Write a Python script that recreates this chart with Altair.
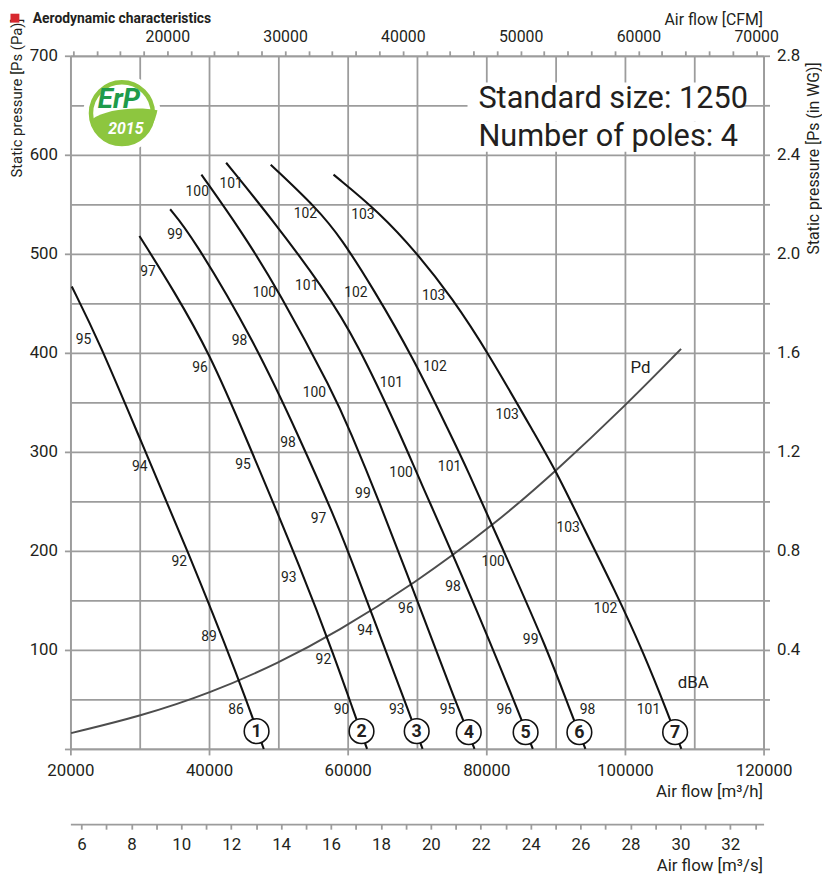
import altair as alt
import pandas as pd

FONT = "Roboto"
INK = "#231f20"
GRID = "#9c9c9c"

# ---------------- data ----------------
# fan curves: air flow Q [m3/h] and static pressure P [Pa]
c1_q = [20200, 24100, 30100, 37000, 44400, 47900]
c1_p = [467, 412, 312, 199, 69, 0]
c2_q = [29960, 35000, 40100, 45000, 53670, 58140, 60810, 62800]
c2_p = [518, 462, 399, 320, 175, 92, 39, 0]
c3_q = [34390, 37470, 46530, 53190, 58430, 61290, 64000, 66570, 68570, 70810]
c3_p = [545, 519, 412, 312, 229, 177, 127, 79, 42, 0]
c4_q = [38900, 44570, 50100, 57960, 60290, 64390, 70570, 75500, 78300]
c4_p = [580, 524, 462, 359, 322, 253, 140, 49, 0]
c5_q = [42470, 49430, 56530, 61290, 67960, 69860, 77240, 84570, 86710]
c5_p = [592, 532, 465, 412, 312, 280, 164, 39, 0]
c6_q = [48900, 55570, 59140, 63670, 69390, 75000, 76760, 83140, 88710, 92140, 94300]
c6_p = [590, 546, 515, 465, 396, 315, 290, 190, 102, 38, 0]
c7_q = [57960, 64570, 70100, 75100, 80100, 87470, 90100, 94140, 98430, 102710, 106290, 108140]
c7_p = [580, 542, 500, 455, 402, 312, 280, 222, 162, 97, 34, 0]
curve_ids = ["1", "2", "3", "4", "5", "6", "7"]
curve_q = [c1_q, c2_q, c3_q, c4_q, c5_q, c6_q, c7_q]
curve_p = [c1_p, c2_p, c3_p, c4_p, c5_p, c6_p, c7_p]

# dynamic pressure curve Pd
pd_q = [20100, 30100, 40100, 50100, 58430, 69610, 81040, 90100, 100100, 108100]
pd_p = [16, 33, 56, 87, 118, 167, 226, 281, 347, 404]

# dBA labels along the curves
lab_text = ["95", "94", "92", "89", "86",
            "97", "96", "95", "93", "92", "90",
            "99", "98", "98", "97", "94", "93",
            "100", "100", "100", "99", "96", "95",
            "101", "101", "101", "100", "98", "96",
            "102", "102", "102", "101", "100", "99", "98",
            "103", "103", "103", "103", "102", "101"]
lab_q = [21900, 30000, 35700, 40000, 43900,
         31200, 38700, 44900, 51500, 56500, 59100,
         35100, 44400, 51400, 55800, 62500, 67100,
         38300, 48000, 55200, 62200, 68400, 74400,
         43200, 54100, 66300, 67700, 75200, 82600,
         53900, 61200, 72600, 74700, 81000, 86400, 94600,
         62200, 72400, 83000, 91800, 97200, 103400]
lab_p = [413, 285, 189, 113, 39,
         482, 385, 287, 173, 90, 39,
         519, 412, 309, 232, 119, 39,
         562, 460, 359, 257, 141, 39,
         570, 467, 370, 279, 164, 39,
         540, 460, 386, 285, 189, 110, 39,
         539, 457, 337, 223, 141, 39]

# numbered circles at the foot of each curve
circ_q = [46860, 62000, 69960, 77470, 85670, 93430, 107240]
circ_p = [18, 18, 18, 17, 17, 17, 17]

# other annotations
note_text = ["Pd", "dBA"]
note_q = [102240, 109860]
note_p = [385, 67]
info_text = ["Standard size: 1250", "Number of poles: 4"]
info_q = [78860, 78860]
info_p = [647, 609]
mask_q = [77290, 77290]
mask_q2 = [117000, 116000]
mask_p = [634, 603]
mask_p2 = [673, 634]
logo_q = [27430]
logo_p = [642]

# axis tick values
x_ticks = list(range(20000, 120001, 10000))
y_ticks = list(range(0, 701, 50))
cfm_ticks = list(range(12000, 70001, 2000))
wg_ticks = [round(i * 0.2, 1) for i in range(15)]
m3s_ticks = list(range(6, 34))

# ---------------- frames ----------------
rows = []
for cid, qs, ps in zip(curve_ids, curve_q, curve_p):
    for q, p in zip(qs, ps):
        rows.append({"curve": cid, "Q": q, "P": p})
curves_df = pd.DataFrame(rows)
pd_df = pd.DataFrame({"Q": pd_q, "P": pd_p})
lab_df = pd.DataFrame({"Q": lab_q, "P": lab_p, "t": lab_text})
circ_df = pd.DataFrame({"Q": circ_q, "P": circ_p, "t": curve_ids})
note_df = pd.DataFrame({"Q": note_q, "P": note_p, "t": note_text})
info_df = pd.DataFrame({"Q": info_q, "P": info_p, "t": info_text})
mask_df = pd.DataFrame({"Q": mask_q, "Q2": mask_q2, "P": mask_p, "P2": mask_p2})
logo_df = pd.DataFrame({"Q": logo_q, "P": logo_p})

# ---------------- scales & axes ----------------
XS = alt.Scale(domain=[20000, 120000], nice=False, zero=False)
YS = alt.Scale(domain=[0, 700], nice=False, zero=False)

axis_x = alt.Axis(
    orient="bottom", values=x_ticks, format="d",
    labelExpr="datum.value % 20000 === 0 ? datum.label : ''",
    grid=True, tickSize=6, labelPadding=8,
    tickOpacity={"condition": {"test": "datum.value % 20000 === 0", "value": 1}, "value": 0},
    title="Air flow [m³/h]", titleX=699, titleY=48, titleAlign="right",
    titleBaseline="alphabetic", titleAngle=0,
)
axis_y = alt.Axis(
    orient="left", values=y_ticks,
    labelExpr="datum.value > 0 && datum.value % 100 === 0 ? datum.label : ''",
    grid=True, tickSize=6, labelPadding=7,
    tickOpacity={"condition": {"test": "datum.value % 100 === 0", "value": 1}, "value": 0},
    title="Static pressure [Ps (Pa)]", titleFontSize=15, titleAngle=270,
    titleX=-49, titleY=-38, titleAlign="right", titleBaseline="alphabetic",
)
X_ENC = alt.X("Q:Q", scale=XS, axis=axis_x)
Y_ENC = alt.Y("P:Q", scale=YS, axis=axis_y)

# ---------------- inner (shared-scale) layers ----------------
mask = alt.Chart(mask_df).mark_rect(color="white", opacity=1).encode(
    x=X_ENC, x2="Q2:Q", y=Y_ENC, y2="P2:Q")

logo_bg = alt.Chart(logo_df).mark_circle(size=6084, color="white", opacity=1).encode(x=X_ENC, y=Y_ENC)
logo_ring = alt.Chart(logo_df).mark_point(size=3900, color="#8dc63f", strokeWidth=4.5, opacity=1).encode(x=X_ENC, y=Y_ENC)
LEAF = "M -0.98 0.2 C -0.5 -0.15 0.5 -0.22 1.15 -0.1 C 1.0 0.6 0.6 0.97 0 1 C -0.55 0.98 -0.9 0.65 -0.98 0.2 Z"
logo_leaf = alt.Chart(logo_df).mark_point(shape=LEAF, size=3900, filled=True, color="#8dc63f", opacity=1).encode(x=X_ENC, y=Y_ENC)
logo_erp = alt.Chart(logo_df).mark_text(text="ErP", font=FONT, fontSize=28, fontWeight="bold", fontStyle="italic",
                                        color="#1e9b4b", dx=-3, dy=-13, baseline="middle").encode(x=X_ENC, y=Y_ENC)
logo_year = alt.Chart(logo_df).mark_text(text="2015", font=FONT, fontSize=16, fontWeight="bold", fontStyle="italic",
                                         color="white", dx=4, dy=16, baseline="middle").encode(x=X_ENC, y=Y_ENC)

curves = alt.Chart(curves_df).mark_line(color="#111111", strokeWidth=2.1, interpolate="basis").encode(
    x=X_ENC, y=Y_ENC, detail="curve:N")
pd_line = alt.Chart(pd_df).mark_line(color="#4d4d4d", strokeWidth=2, interpolate="basis").encode(x=X_ENC, y=Y_ENC)

labels = alt.Chart(lab_df).mark_text(font=FONT, fontSize=14, color=INK, baseline="middle").encode(
    x=X_ENC, y=Y_ENC, text="t:N")
notes = alt.Chart(note_df).mark_text(font=FONT, fontSize=17, color=INK, baseline="middle").encode(
    x=X_ENC, y=Y_ENC, text="t:N")
info = alt.Chart(info_df).mark_text(font=FONT, fontSize=31, color=INK, align="left", baseline="alphabetic").encode(
    x=X_ENC, y=Y_ENC, text="t:N")

circ = alt.Chart(circ_df).mark_point(shape="circle", size=620, filled=True, fill="white", stroke="#111111",
                                     strokeWidth=1.6, opacity=1).encode(x=X_ENC, y=Y_ENC)
circ_num = alt.Chart(circ_df).mark_text(font=FONT, fontSize=18, fontWeight="bold", color=INK, baseline="middle",
                                        dy=1).encode(x=X_ENC, y=Y_ENC, text="t:N")

heading_sq = alt.Chart(logo_df).mark_square(size=81, color="#d7282f", opacity=1).encode(
    x=alt.value(-56), y=alt.value(-38))
heading = alt.Chart(logo_df).mark_text(text="Aerodynamic characteristics", font=FONT, fontSize=14,
                                       fontWeight="bold", color=INK, align="left", baseline="alphabetic").encode(
    x=alt.value(-38), y=alt.value(-33))

inner = alt.LayerChart(layer=[mask, logo_bg, logo_ring, logo_leaf, logo_erp, logo_year, pd_line, curves,
                              labels, notes, info, circ, circ_num, heading_sq, heading])

# ---------------- extra axes (independent scales) ----------------
top = alt.Chart(pd.DataFrame({"cfm": [12000, 70000]})).mark_point(opacity=0).encode(
    x=alt.X("cfm:Q", scale=alt.Scale(domain=[11771.6, 70629.4], nice=False, zero=False),
            axis=alt.Axis(orient="top", values=cfm_ticks, format="d",
                          labelExpr="datum.value % 10000 === 0 ? datum.label : ''",
                          grid=False, tickSize=5, labelPadding=6, labelFontSize=16,
                          title="Air flow [CFM]", titleFontSize=16, titleX=699, titleY=-32,
                          titleAlign="right", titleBaseline="alphabetic", titleAngle=0)))
right = alt.Chart(pd.DataFrame({"wg": [0, 2.8]})).mark_point(opacity=0).encode(
    y=alt.Y("wg:Q", scale=alt.Scale(domain=[0, 2.8], nice=False, zero=False),
            axis=alt.Axis(orient="right", values=wg_ticks, format=".1f",
                          labelExpr="datum.value > 0.1 && round(datum.value * 10) % 4 === 0 ? datum.label : ''",
                          grid=False, tickSize=6, labelPadding=7,
                          title="Static pressure [Ps (in WG)]", titleFontSize=16, titleAngle=270,
                          titleX=55, titleY=6, titleAlign="right", titleBaseline="alphabetic")))
m3s = alt.Chart(pd.DataFrame({"m3s": [6, 33]})).mark_point(opacity=0).encode(
    x=alt.X("m3s:Q", scale=alt.Scale(domain=[20000 / 3600, 120000 / 3600], nice=False, zero=False),
            axis=alt.Axis(orient="bottom", offset=76, values=m3s_ticks,
                          labelExpr="datum.value % 2 === 0 ? datum.label : ''",
                          grid=False, tickSize=5, labelPadding=8,
                          title="Air flow [m³/s]", titleX=699, titleY=47, titleAlign="right",
                          titleBaseline="alphabetic", titleAngle=0)))

chart = alt.LayerChart(layer=[inner, top, right, m3s]).resolve_scale(
    x="independent", y="independent"
).properties(
    width=700, height=700,
    autosize=alt.AutoSizeParams(type="none"),
    padding={"left": 63, "top": 44, "right": 59, "bottom": 122},
    background="white",
).configure_view(stroke=None).configure_axis(
    labelFont=FONT, titleFont=FONT, labelColor=INK, titleColor=INK,
    labelFontSize=17, titleFontSize=17, titleFontWeight="normal",
    domainColor=GRID, tickColor=GRID, gridColor=GRID,
    domainWidth=1.8, tickWidth=1.8, gridWidth=1.8,
    labelFlush=False, labelOverlap=False,
)

chart.save("out.html", embed_options={"renderer": "svg", "actions": False})
